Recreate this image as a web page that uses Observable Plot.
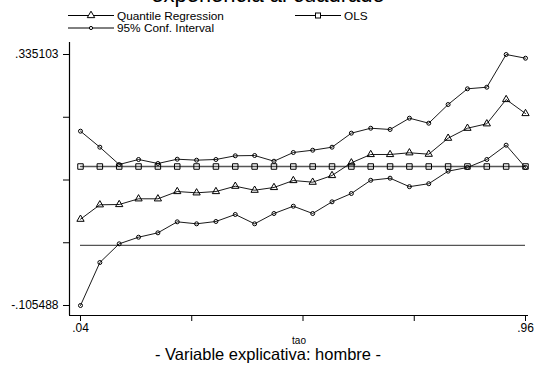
<!DOCTYPE html>
<html><head><meta charset="utf-8">
<script src="https://cdn.jsdelivr.net/npm/d3@7"></script>
<script src="https://cdn.jsdelivr.net/npm/@observablehq/plot@0.6"></script>
<style>
body{margin:0;background:#fff;font-family:"Liberation Sans",Arial,sans-serif;}
#wrap{position:relative;width:536px;height:367px;overflow:hidden;background:#fff;}
#title{position:absolute;left:0;width:536px;text-align:center;top:-16px;font-size:22px;line-height:22px;}
#subtitle{position:absolute;left:0;width:536px;text-align:center;top:345px;font-size:16.5px;line-height:18px;}
#legend{position:absolute;left:0;top:0;}
#chart{position:absolute;left:0;top:0;}
</style></head>
<body><div id="wrap"><div id="chart"></div><div id="title">experiencia al cuadrado</div><div id="subtitle">- Variable explicativa: hombre -</div><svg id="legend" width="536" height="40"></svg></div>
<script>
const tao = [0.04,0.08,0.12,0.16,0.20,0.24,0.28,0.32,0.36,0.40,0.44,0.48,0.52,0.56,0.60,0.64,0.68,0.72,0.76,0.80,0.84,0.88,0.92,0.96];
const quantReg = [0.0460,0.0713,0.0718,0.0818,0.0818,0.0946,0.0923,0.0946,0.1039,0.0969,0.1017,0.1139,0.1110,0.1227,0.1450,0.1596,0.1596,0.1626,0.1601,0.1882,0.2057,0.2135,0.2561,0.2315];
const ciUpper = [0.2005,0.1724,0.1420,0.1508,0.1438,0.1513,0.1496,0.1508,0.1573,0.1578,0.1478,0.1631,0.1671,0.1724,0.1970,0.2057,0.2035,0.2233,0.2145,0.2473,0.2749,0.2777,0.335103,0.3286];
const ciLower = [-0.105488,-0.0300,0.0028,0.0144,0.0221,0.0414,0.0379,0.0420,0.0543,0.0379,0.0560,0.0688,0.0560,0.0765,0.0911,0.1143,0.1180,0.1031,0.1083,0.1303,0.1368,0.1508,0.1759,0.1368];
const olsValue = 0.1385;
const yTicks = [-0.105488,0.004655,0.114805,0.224955,0.335103];
const yTickLabels = ["-.105488","","","",".335103"];
const xTicks = [0.04,0.27,0.5,0.73,0.96];
const xTickLabels = [".04","","","",".96"];

const rows = tao.map((t,i)=>({tao:t,q:quantReg[i],u:ciUpper[i],l:ciLower[i],ols:olsValue}));
const xDom=[0.01726,0.9662], yDom=[-0.12303,0.35617];
const plot = Plot.plot({
  width:536,height:367,marginTop:42,marginBottom:52,marginLeft:69,marginRight:8,
  style:{fontFamily:"Liberation Sans, Arial, sans-serif",fontSize:"11px",color:"#000",background:"transparent"},
  x:{domain:xDom},
  y:{domain:yDom},
  marks:[
    Plot.ruleY([0],{x1:tao[0],x2:tao[tao.length-1],stroke:"#555",strokeWidth:1.3}),
    Plot.line(rows,{x:"tao",y:"ols",stroke:"#555",strokeWidth:1.4}),
    Plot.dot(rows,{x:"tao",y:"ols",symbol:"square",r:3.1,stroke:"#000",fill:"none",strokeWidth:1}),
    Plot.line(rows,{x:"tao",y:"u",stroke:"#000",strokeWidth:0.9}),
    Plot.dot(rows,{x:"tao",y:"u",r:2,stroke:"#000",fill:"none",strokeWidth:1}),
    Plot.line(rows,{x:"tao",y:"l",stroke:"#000",strokeWidth:0.9}),
    Plot.dot(rows,{x:"tao",y:"l",r:2,stroke:"#000",fill:"none",strokeWidth:1}),
    Plot.line(rows,{x:"tao",y:"q",stroke:"#000",strokeWidth:0.9}),
    Plot.dot(rows,{x:"tao",y:"q",symbol:"triangle",r:2.7,stroke:"#000",fill:"none",strokeWidth:1}),
    Plot.ruleX([xDom[0]],{stroke:"#000",strokeWidth:1.2}),
    Plot.ruleY([yDom[0]],{stroke:"#000",strokeWidth:1.2}),
    Plot.axisY({ticks:yTicks,tickFormat:(d)=>yTickLabels[yTicks.indexOf(d)],tickSize:6,tickPadding:5,fontSize:12,label:null}),
    Plot.axisX({ticks:xTicks,tickFormat:(d)=>xTickLabels[xTicks.indexOf(d)],tickSize:6,tickPadding:2,fontSize:12,label:null}),
    Plot.text(["tao"],{frameAnchor:"bottom",dy:28,fontSize:10,text:d=>d})
  ]
});
document.getElementById("chart").appendChild(plot);

// legend
const lg = d3.select("#legend");
const items=[
  {x:68,y:15.5,label:"Quantile Regression",sym:"tri"},
  {x:295,y:15.5,label:"OLS",sym:"sq"},
  {x:68,y:28,label:"95% Conf. Interval",sym:"circ"}
];
items.forEach(it=>{
  lg.append("line").attr("x1",it.x).attr("x2",it.x+46).attr("y1",it.y).attr("y2",it.y).attr("stroke","#000").attr("stroke-width",1);
  const cx=it.x+23;
  if(it.sym==="tri") lg.append("path").attr("d",d3.symbol(d3.symbolTriangle,24)()).attr("transform",`translate(${cx},${it.y})`).attr("fill","#fff").attr("stroke","#000");
  if(it.sym==="sq") lg.append("rect").attr("x",cx-2.5).attr("y",it.y-2.5).attr("width",5).attr("height",5).attr("fill","#fff").attr("stroke","#000");
  if(it.sym==="circ") lg.append("circle").attr("cx",cx).attr("cy",it.y).attr("r",1.6).attr("fill","#fff").attr("stroke","#000");
  lg.append("text").attr("x",it.x+49).attr("y",it.y+4).attr("font-size","11.8px").attr("font-family","Liberation Sans, Arial, sans-serif").text(it.label);
});
</script></body></html>
